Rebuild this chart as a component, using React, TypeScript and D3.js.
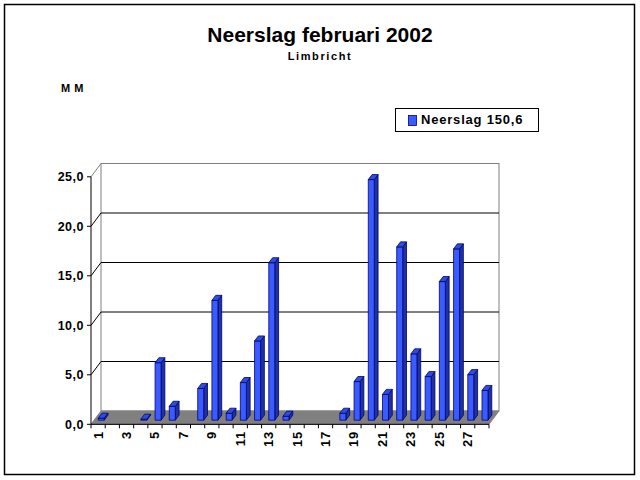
import React from "react";
import * as d3 from "d3";

const days: number[] = Array.from({ length: 28 }, (_, i) => i + 1);
const rain: number[] = [
  0.2, 0, 0, 0.1, 5.8, 1.4, 0, 3.2, 12.1, 0.7, 3.8, 8.0, 15.9, 0.4,
  0, 0, 0, 0.7, 3.9, 24.3, 2.6, 17.5, 6.7, 4.4, 14.0, 17.3, 4.6, 3.0,
];
const yTicks: number[] = [0, 5, 10, 15, 20, 25];
const xLabelDays: number[] = days.filter((d) => d % 2 === 1);
const title = "Neerslag februari 2002";
const subtitle = "Limbricht";
const unitLabel = "M M";
const legendLabel = "Neerslag 150,6";

const FONT = "'Liberation Sans', Arial, sans-serif";

export default function App() {
  const x0 = 91;
  const x1 = 489;
  const yFront0 = 424.3;
  const depthX = 10;
  const depthY = -13.3;
  const x = d3.scaleBand<number>().domain(days).range([x0, x1]).padding(0);
  const yFront = d3.scaleLinear().domain([0, 25]).range([yFront0, yFront0 - 247.5]);
  const yBack = (v: number) => yFront(v) + depthY;

  const f0 = 0.31;
  const f1 = 0.69;
  const barW = 6;

  const floor = [
    [x0, yFront0],
    [x1, yFront0],
    [x1 + depthX, yFront0 + depthY],
    [x0 + depthX, yFront0 + depthY],
  ];

  return (
    <svg
      width={640}
      height={480}
      style={{ position: "absolute", left: 0, top: 0, display: "block", background: "#fff" }}
      fontFamily={FONT}
    >
      <rect x={4.5} y={4.5} width={630} height={470} fill="#fff" stroke="#000" strokeWidth={1.5} />
      <text x={320} y={41.5} textAnchor="middle" fontSize={21} fontWeight="bold">
        {title}
      </text>
      <text x={320} y={60} textAnchor="middle" fontSize={11} fontWeight="bold" letterSpacing={1.6}>
        {subtitle}
      </text>
      <text x={61} y={92} fontSize={11} fontWeight="bold" letterSpacing={0.5}>
        {unitLabel}
      </text>

      <rect
        x={x0 + depthX}
        y={yBack(25)}
        width={x1 - x0}
        height={yBack(0) - yBack(25)}
        fill="#fff"
        stroke="#808080"
        strokeWidth={1}
      />
      {yTicks.slice(1).map((t) => (
        <g key={`g${t}`}>
          {t < 25 && (
            <line x1={x0 + depthX} x2={x1 + depthX} y1={yBack(t)} y2={yBack(t)} stroke="#000" strokeWidth={1} />
          )}
          <line x1={x0} x2={x0 + depthX} y1={yFront(t)} y2={yBack(t)} stroke={t === 25 ? "#808080" : "#000"} strokeWidth={1} />
        </g>
      ))}
      <polygon points={floor.map((p) => p.join(",")).join(" ")} fill="#808080" stroke="#808080" strokeWidth={1} />
      <line x1={x0} x2={x0} y1={yFront(25)} y2={yFront0} stroke="#000" strokeWidth={1} />
      {yTicks.map((t) => (
        <g key={`yt${t}`}>
          <line x1={x0 - 4} x2={x0} y1={yFront(t)} y2={yFront(t)} stroke="#000" strokeWidth={1} />
          <text x={84} y={yFront(t) + 4.5} textAnchor="end" fontSize={12.5} fontWeight="bold" letterSpacing={0.5}>
            {d3.format(".1f")(t).replace(".", ",")}
          </text>
        </g>
      ))}
      <line x1={x0} x2={x1} y1={yFront0} y2={yFront0} stroke="#000" strokeWidth={1} />
      {days.concat([29]).map((d, i) => {
        const xx = x0 + i * x.step();
        return <line key={`xt${d}`} x1={xx} x2={xx} y1={yFront0} y2={yFront0 + 4} stroke="#000" strokeWidth={1} />;
      })}
      {xLabelDays.map((d) => {
        const cx = (x(d) as number) + x.bandwidth() / 2;
        return (
          <text
            key={`xl${d}`}
            transform={`translate(${cx + 4.5},431) rotate(-90)`}
            textAnchor="end"
            fontSize={13}
            fontWeight="bold"
            letterSpacing={0.8}
          >
            {d}
          </text>
        );
      })}

      {days.map((d, i) => {
        const v = rain[i];
        if (v <= 0) return null;
        const cx = (x(d) as number) + x.bandwidth() / 2;
        const fx = cx - barW / 2 + depthX * f0;
        const fy0 = yFront(0) + depthY * f0;
        const fyT = yFront(v) + depthY * f0;
        const dx = depthX * (f1 - f0);
        const dy = depthY * (f1 - f0);
        const front = `${fx},${fy0} ${fx + barW},${fy0} ${fx + barW},${fyT} ${fx},${fyT}`;
        const side = `${fx + barW},${fy0} ${fx + barW + dx},${fy0 + dy} ${fx + barW + dx},${fyT + dy} ${fx + barW},${fyT}`;
        const top = `${fx},${fyT} ${fx + barW},${fyT} ${fx + barW + dx},${fyT + dy} ${fx + dx},${fyT + dy}`;
        return (
          <g key={`b${d}`} stroke="#000080" strokeWidth={0.8} strokeLinejoin="round">
            <polygon points={side} fill="#1f3399" />
            <polygon points={front} fill="#3a5cff" />
            <polygon points={top} fill="#2d4ed6" />
          </g>
        );
      })}

      <rect x={395.5} y={108.5} width={143} height={23} fill="#fff" stroke="#000" strokeWidth={1} />
      <rect x={408.5} y={115.5} width={8} height={10} fill="#3a5cff" stroke="#000080" strokeWidth={0.8} />
      <text x={421} y={124} fontSize={13} fontWeight="bold" letterSpacing={0.8}>
        {legendLabel}
      </text>
    </svg>
  );
}
